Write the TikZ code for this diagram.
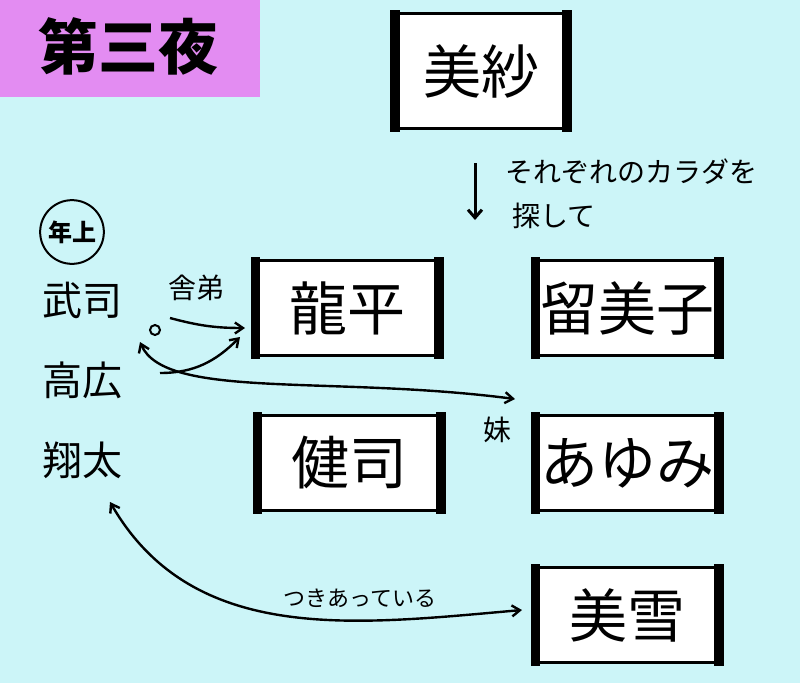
\documentclass[tikz,border=0pt]{standalone}
\usepackage{fontspec}
\setmainfont{Noto Sans CJK JP}
\usetikzlibrary{arrows.meta}
\definecolor{bg}{HTML}{CCF5F8}
\definecolor{pinkbox}{HTML}{E38CF2}
\tikzset{
  namebox/.style={draw=black, fill=white, line width=3.5pt, minimum width=#1, font=\fontsize{58}{60}\selectfont, inner sep=0pt},
  namebox/.default=186pt,
  lbl/.style={font=\fontsize{40}{42}\selectfont, inner sep=0pt},
  small/.style={font=\fontsize{28}{30}\selectfont, inner sep=0pt},
  conn/.style={line width=2.4pt, -{Straight Barb[length=8pt,width=11pt]}},
  bconn/.style={line width=2.4pt, {Straight Barb[length=8pt,width=11pt]}-{Straight Barb[length=8pt,width=11pt]}}
}
\begin{document}
\begin{tikzpicture}[x=1pt,y=-1pt]
\fill[bg] (0,0) rectangle (800,683);
\useasboundingbox (0,0) rectangle (800,683);
\fill[pinkbox] (0,0) rectangle (260,97);
\node[font=\fontsize{60}{62}\selectfont\bfseries, inner sep=0pt] (title) at (128,46) {第三夜};

\node[namebox=175pt, minimum height=115pt] (misa) at (481,71) {美紗};
\node[namebox, minimum height=95pt] (ryuhei) at (347,308) {龍平};
\node[namebox, minimum height=95pt] (rumiko) at (627,308) {留美子};
\node[namebox, minimum height=95pt] (kenji) at (349,463) {健司};
\node[namebox, minimum height=95pt] (ayumi) at (627,463) {あゆみ};
\node[namebox, minimum height=95pt] (miyuki) at (627,615) {美雪};
\foreach \n in {misa,ryuhei,rumiko,kenji,ayumi,miyuki}{
  \fill ([xshift=-1.75pt,yshift=1.75pt]\n.north west) rectangle ([xshift=8pt,yshift=-1.75pt]\n.south west);
  \fill ([xshift=1.75pt,yshift=1.75pt]\n.north east) rectangle ([xshift=-8pt,yshift=-1.75pt]\n.south east);
}

\coordinate (downA) at (475,163);
\coordinate (downB) at (475,220);
\draw[line width=3pt, -{Straight Barb[length=8pt,width=14pt]}] (downA) -- (downB);
\node[small, anchor=west] (search1) at (505,172) {それぞれのカラダを};
\node[small, anchor=west] (search2) at (512,216) {探して};

\node[draw, circle, line width=2pt, inner sep=4pt, font=\fontsize{24}{26}\selectfont\bfseries] (toshiue) at (72,232) {年上};
\node[lbl] (takeshi) at (82,300) {武司};
\node[lbl] (takahiro) at (82,380) {高広};
\node[lbl] (shota) at (82,460) {翔太};

\node[small] (shatei) at (196,288) {舎弟};
\node[small] (imouto) at (497,430) {妹};
\node[font=\fontsize{22}{24}\selectfont, inner sep=0pt] (tsuki) at (360,598) {つきあっている};

\coordinate (k1) at (170,318);
\coordinate (r1) at (245,328);
\draw[conn] (k1) to[out=-15,in=180] (r1);
\coordinate (k2) at (160,373);
\coordinate (r2) at (240,337);
\draw[conn] (k2) to[out=0,in=225] (r2);
\coordinate (k3) at (140,342);
\coordinate (a1) at (515,399);
\draw[bconn] (k3) .. controls (165,400) and (330,375) .. (a1);
\coordinate (k4) at (110,502);
\coordinate (m1) at (522,610);
\draw[bconn] (k4) to[out=-60,in=185] (m1);
\draw[line width=2pt] (155,330) circle (5pt);
\end{tikzpicture}
\end{document}
